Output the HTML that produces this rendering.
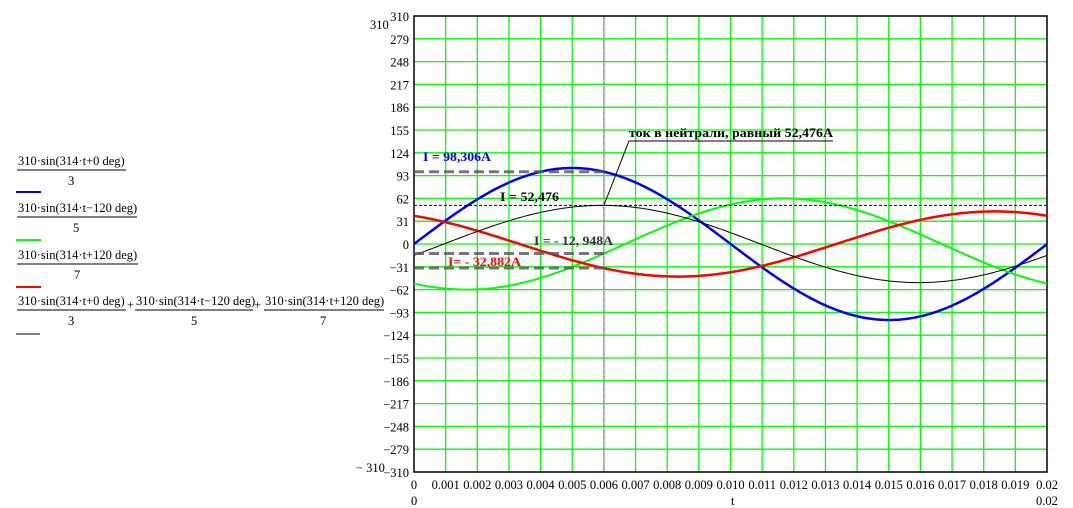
<!DOCTYPE html>
<html><head><meta charset="utf-8"><style>
body{margin:0;background:#fff}
svg{display:block}
text{font-family:"Liberation Serif","DejaVu Serif",serif;font-size:12.5px}
</style></head><body>
<svg id="s" width="1073" height="508" xmlns="http://www.w3.org/2000/svg">
<g id="grid"></g>
<g id="legend">
<text x="18" y="165">310·sin(314·t+0 deg)</text><line x1="17" y1="170" x2="126" y2="170" stroke="#000"/><text x="68" y="185">3</text>
<line x1="16" y1="192" x2="41" y2="192" stroke="#00f" stroke-width="2"/>
<text x="18" y="212">310·sin(314·t−120 deg)</text><line x1="17" y1="217" x2="137" y2="217" stroke="#000"/><text x="73" y="232">5</text>
<line x1="16" y1="240" x2="41" y2="240" stroke="#0f0" stroke-width="2"/>
<text x="18" y="259">310·sin(314·t+120 deg)</text><line x1="17" y1="264" x2="138" y2="264" stroke="#000"/><text x="74" y="279">7</text>
<line x1="16" y1="287" x2="41" y2="287" stroke="#f00" stroke-width="2"/>
<text x="18" y="305">310·sin(314·t+0 deg)</text><line x1="17" y1="310" x2="126" y2="310" stroke="#000"/><text x="68" y="325">3</text>
<text x="127" y="309">+</text>
<text x="136" y="305">310·sin(314·t−120 deg)</text><line x1="135" y1="310" x2="253" y2="310" stroke="#000"/><text x="191" y="325">5</text>
<text x="254" y="309">+</text>
<text x="265" y="305">310·sin(314·t+120 deg)</text><line x1="264" y1="310" x2="384" y2="310" stroke="#000"/><text x="320" y="325">7</text>
<line x1="16" y1="334" x2="40" y2="334" stroke="#000" stroke-width="1"/>
</g>
<g id="curves"></g>
<g id="ann">
<line x1="414" y1="171.7" x2="604" y2="171.7" stroke="#555" stroke-width="3" stroke-dasharray="10,5" opacity="0.8"/>
<line x1="414" y1="253.5" x2="604" y2="253.5" stroke="#555" stroke-width="3" stroke-dasharray="10,5" opacity="0.8"/>
<line x1="414" y1="268" x2="604" y2="268" stroke="#555" stroke-width="3" stroke-dasharray="10,5" opacity="0.8"/>
<line x1="414" y1="205.4" x2="1047" y2="205.4" stroke="#000" stroke-width="1" stroke-dasharray="3,2"/>
<polyline points="604,205 629,141 833,141" fill="none" stroke="#000" stroke-width="1"/>
<text x="629" y="137" font-weight="bold" font-size="15" textLength="204" lengthAdjust="spacingAndGlyphs">ток в нейтрали, равный 52,476А</text>
<text x="423" y="161" font-weight="bold" font-size="15" fill="#00f" textLength="68" lengthAdjust="spacingAndGlyphs">I = 98,306А</text>
<text x="500" y="201" font-weight="bold" font-size="15" textLength="59" lengthAdjust="spacingAndGlyphs">I = 52,476</text>
<text x="534" y="245" font-weight="bold" font-size="15" fill="#333" textLength="79" lengthAdjust="spacingAndGlyphs">I = - 12, 948А</text>
<text x="448" y="266" font-weight="bold" font-size="15" fill="#f00" textLength="73" lengthAdjust="spacingAndGlyphs">I= - 32,882А</text>
</g>
</svg>
<script>
const X0=414,X1=1047,Y0=16,Y1=472,YC=244;
const sx=(X1-X0)/0.02, sy=(Y1-Y0)/620;
const ns="http://www.w3.org/2000/svg";
const g=document.getElementById('grid'),c=document.getElementById('curves');
function el(p,t,a,txt){const e=document.createElementNS(ns,t);for(const k in a)e.setAttribute(k,a[k]);if(txt!==undefined)e.textContent=txt;p.appendChild(e);return e;}
for(let i=1;i<20;i++){const x=X0+i*(X1-X0)/20;el(g,'line',{x1:x,y1:Y0,x2:x,y2:Y1,stroke:'#0f0','stroke-width':1.3});
 const y=Y0+i*(Y1-Y0)/20;el(g,'line',{x1:X0,y1:y,x2:X1,y2:y,stroke:'#0f0','stroke-width':1.3});}
el(g,'line',{x1:604,y1:Y0,x2:604,y2:Y1,stroke:'#c4c','stroke-width':1,'stroke-dasharray':'3,3'});
el(g,'rect',{x:X0,y:Y0,width:X1-X0,height:Y1-Y0,fill:'none',stroke:'#000','stroke-width':1.5});
for(let i=0;i<=20;i++){const v=310-31*i;const y=Y0+i*(Y1-Y0)/20;el(g,'text',{x:409,y:y+5,'text-anchor':'end'},v==0?'0':(v<0?'−'+(-v):''+v));}
for(let i=0;i<=20;i++){const x=X0+i*(X1-X0)/20;let s=i==0?'0':(i==20?'0.02':(i/1000).toFixed(3));el(g,'text',{x:x,y:489,'text-anchor':'middle'},s);}
el(g,'text',{x:370,y:29},'310');el(g,'text',{x:356,y:472},'− 310');
el(g,'text',{x:411,y:505},'0');el(g,'text',{x:1036,y:505},'0.02');el(g,'text',{x:731,y:505},'t');
const d=Math.PI/180;
const fs=[[t=>310*Math.sin(314*t)/3,'#00f',2.5],[t=>310*Math.sin(314*t-120*d)/5,'#0f0',2],[t=>310*Math.sin(314*t+120*d)/7,'#f00',2.5],
[t=>310*Math.sin(314*t)/3+310*Math.sin(314*t-120*d)/5+310*Math.sin(314*t+120*d)/7,'#000',1]];
for(const [f,col,w] of fs){let p='';for(let i=0;i<=400;i++){const t=0.02*i/400;p+=(i?'L':'M')+(X0+t*sx).toFixed(1)+','+(YC-f(t)*sy).toFixed(1);}
el(c,'path',{d:p,fill:'none',stroke:col,'stroke-width':w});}
</script>
</body></html>
